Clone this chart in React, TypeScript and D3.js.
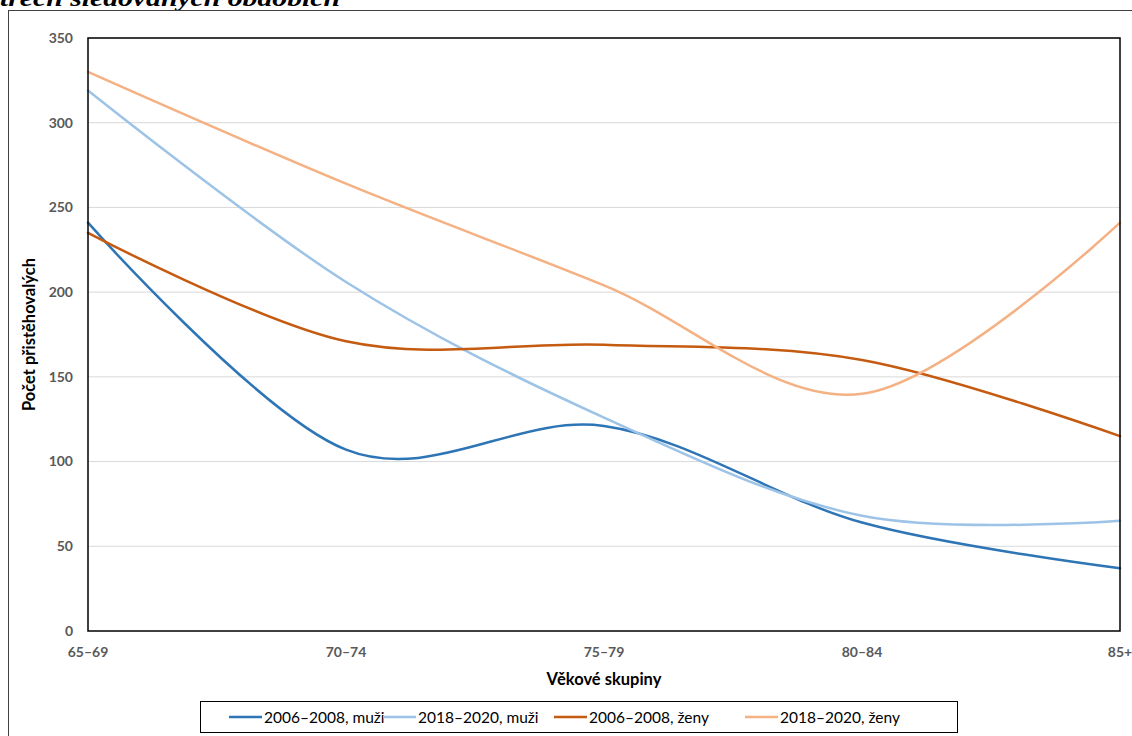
import React from "react";
import * as d3 from "d3";

const categories = ["65–69", "70–74", "75–79", "80–84", "85+"];
const yTicks = [0, 50, 100, 150, 200, 250, 300, 350];
const muzi2006 = [241, 107, 121, 64, 37];
const muzi2018 = [319, 206, 126, 68, 65];
const zeny2006 = [235, 171, 169, 160, 115];
const zeny2018 = [330, 264, 204, 140, 241];

const seriesNames = ["2006–2008, muži", "2018–2020, muži", "2006–2008, ženy", "2018–2020, ženy"];
const seriesColors = ["#2E75B6", "#9DC3E6", "#C55A11", "#F4B183"];

const FONT = "Lato, 'Open Sans', sans-serif";

export default function App() {
  const W = 1132, H = 736;
  const left = 88, right = 1120, top = 38, bottom = 631;
  const x = d3.scalePoint<string>().domain(categories).range([left, right]);
  const y = d3.scaleLinear().domain([0, 350]).range([bottom, top]);
  const allSeries = [muzi2006, muzi2018, zeny2006, zeny2018];
  const line = d3
    .line<number>()
    .x((_, i) => x(categories[i]) as number)
    .y((d) => y(d))
    .curve(d3.curveCardinal.tension(0));

  const legendX = [229, 383, 554, 745];

  return (
    <svg width={W} height={H} style={{ position: "absolute", left: 0, top: 0, background: "#fff" }}>
      <text x={0} y={6} fontFamily="'Liberation Serif', 'DejaVu Serif', serif" fontWeight="bold" fontStyle="italic" fontSize={24} textLength={340} lengthAdjust="spacingAndGlyphs">
        třech sledovaných obdobích
      </text>
      <rect x={8.5} y={10.5} width={1140} height={740} fill="none" stroke="#404040" strokeWidth={1} />
      {yTicks.slice(1).map((t) => (
        <line key={t} x1={left} x2={right} y1={y(t)} y2={y(t)} stroke="#D9D9D9" strokeWidth={1} />
      ))}
      {allSeries.map((s, i) => (
        <path key={i} d={line(s) as string} fill="none" stroke={seriesColors[i]} strokeWidth={2.5} strokeLinecap="round" />
      ))}
      <rect x={left} y={top} width={right - left} height={bottom - top} fill="none" stroke="#000" strokeWidth={1.5} />
      {yTicks.map((t) => (
        <text key={t} x={73} y={y(t)} dy="0.35em" textAnchor="end" fontFamily={FONT} fontWeight="bold" fontSize={14} fill="#595959">
          {t}
        </text>
      ))}
      {categories.map((c) => (
        <text key={c} x={x(c) as number} y={657} textAnchor="middle" fontFamily={FONT} fontWeight="bold" fontSize={14} fill="#595959">
          {c}
        </text>
      ))}
      <text x={(left + right) / 2} y={685} textAnchor="middle" fontFamily={FONT} fontWeight="bold" fontSize={16.5} fill="#000">
        Věkové skupiny
      </text>
      <text transform={`translate(35,${(top + bottom) / 2}) rotate(-90)`} textAnchor="middle" fontFamily={FONT} fontWeight="bold" fontSize={16.5} fill="#000">
        Počet přistěhovalých
      </text>
      <rect x={200.5} y={701.5} width={757} height={31} fill="#fff" stroke="#000" strokeWidth={1} />
      {seriesNames.map((n, i) => (
        <g key={n}>
          <line x1={legendX[i]} x2={legendX[i] + 33} y1={717} y2={717} stroke={seriesColors[i]} strokeWidth={2.5} />
          <text x={legendX[i] + 35} y={722.5} fontFamily={FONT} fontSize={15.5} fill="#000">
            {n}
          </text>
        </g>
      ))}
    </svg>
  );
}
